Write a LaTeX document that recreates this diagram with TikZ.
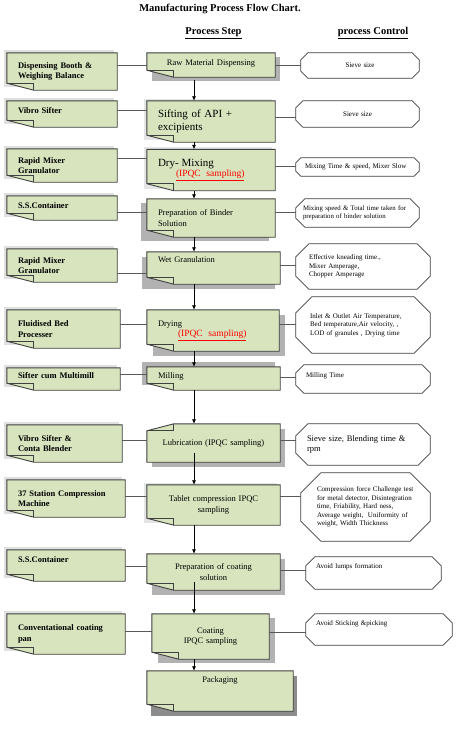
\documentclass[tikz,border=0pt]{standalone}
\usepackage{fontspec}
\setmainfont{Liberation Serif}
\usetikzlibrary{positioning,calc,arrows.meta}

\definecolor{boxgreen}{HTML}{D7E4BD}
\definecolor{boxedge}{HTML}{404040}
\definecolor{shadowgray}{HTML}{B2B2B2}
\pgfdeclarelayer{bg}
\pgfsetlayers{bg,main}

% folded corner (bottom left) behind node #2, shadow moved by #3
\newcommand{\foldbox}[3][shadowgray]{%
  \fill[#1] ([shift={(#3)}]#2.north west) rectangle ([shift={(#3)}]#2.south east);
  \filldraw[edgeline, fill=boxgreen] (#2.north west) -- (#2.north east) -- (#2.south east)
    -- ([xshift=27pt]#2.south west) -- ([yshift=7pt]#2.south west) -- cycle;
  \draw[edgeline] ([yshift=7pt]#2.south west) -- ([shift={(27pt,7pt)}]#2.south west) -- ([xshift=27pt]#2.south west);
}
% same, corner folded at the top left
\newcommand{\foldboxtop}[2]{%
  \fill[shadowgray] ([shift={(#2)}]#1.north west) rectangle ([shift={(#2)}]#1.south east);
  \filldraw[edgeline, fill=boxgreen] ([xshift=27pt]#1.north west) -- (#1.north east) -- (#1.south east)
    -- (#1.south west) -- ([yshift=-7pt]#1.north west) -- cycle;
  \draw[edgeline] ([yshift=-7pt]#1.north west) -- ([shift={(27pt,-7pt)}]#1.north west) -- ([xshift=27pt]#1.north west);
}
% octagon behind node #1, corners cut by #2
\newcommand{\octbox}[2]{%
  \filldraw[edgeline, line width=0.7pt, fill=white] ([xshift=#2]#1.north west) -- ([xshift=-#2]#1.north east)
    -- ([yshift=-#2]#1.north east) -- ([yshift=#2]#1.south east) -- ([xshift=-#2]#1.south east)
    -- ([xshift=#2]#1.south west) -- ([yshift=#2]#1.south west) -- ([yshift=-#2]#1.north west) -- cycle;
}

\begin{document}
\begin{tikzpicture}[x=1pt, y=-1pt,
    edgeline/.style={draw=boxedge, line width=0.9pt},
    tool/.style={inner xsep=11pt, inner ysep=2pt, align=left,
      font=\fontsize{8.5}{10.5}\selectfont\bfseries},
    stepbox/.style={inner xsep=11pt, inner ysep=2pt, align=left,
      font=\fontsize{8.5}{10.5}\selectfont},
    ctrlbox/.style={inner xsep=10pt, inner ysep=2pt, align=left,
      font=\fontsize{7}{8.5}\selectfont},
    head/.style={font=\fontsize{10.5}{12}\selectfont\bfseries},
    link/.style={draw=black!65, line width=0.7pt},
    flow/.style={-{Latex[length=4.5pt,width=4pt]}, line width=0.7pt, black},
    ipqc/.style={text=red}
  ]
  \useasboundingbox (0,0) rectangle (474,744);

  % headings
  \node[head] (title) at (220,9) {Manufacturing Process Flow Chart.};
  \node[head] (hstep) at (213.5,33) {\underline{Process Step}};
  \node[head] (hctrl) at (373,33) {\underline{process Control}};

  % equipment
  \node[tool, text width=88pt, minimum height=37pt] (booth) at (62,71.5) {Dispensing Booth \&\\ Weighing Balance};
  \node[tool, text width=88pt, minimum height=26pt, text depth=6pt] (sifter) at (62,114) {Vibro Sifter};
  \node[tool, text width=88pt, minimum height=33pt] (rmg1) at (62,165.5) {Rapid Mixer\\ Granulator};
  \node[tool, text width=88pt, minimum height=24pt, text depth=4pt] (ssc1) at (62,208) {S.S.Container};
  \node[tool, text width=88pt, minimum height=33pt] (rmg2) at (62,265.5) {Rapid Mixer\\ Granulator};
  \node[tool, text width=91pt, minimum height=38pt] (fbp) at (63.5,329) {Fluidised Bed\\ Processer};
  \node[tool, text width=91pt, minimum height=22pt, text depth=6pt] (multimill) at (63.5,379) {Sifter cum Multimill};
  \node[tool, text width=93pt, minimum height=37pt] (blender) at (64.5,443.5) {Vibro Sifter \&\\ Conta Blender};
  \node[tool, text width=96pt, minimum height=37pt] (press) at (66,498.5) {37 Station Compression\\ Machine};
  \node[tool, text width=96pt, minimum height=31pt, text depth=12pt] (ssc2) at (66,565.5) {S.S.Container};
  \node[tool, text width=96pt, minimum height=40pt] (pan) at (66,634) {Conventational coating\\ pan};

  % process steps
  \node[stepbox, align=center, text width=106pt, minimum height=24pt, text depth=4pt] (raw) at (211,65) {Raw Material Dispensing};
  \node[stepbox, text width=106pt, minimum height=41pt, font=\fontsize{11}{13}\selectfont] (sift) at (211,121.5) {Sifting of API +\\ excipients};
  \node[stepbox, text width=106pt, minimum height=41pt] (drymix) at (211,170)
    {{\fontsize{11}{13}\selectfont Dry- Mixing}\\ \hspace*{18pt}{\fontsize{9.5}{11}\selectfont\color{red}\underline{(IPQC\ \ sampling)}}};
  \node[stepbox, text width=106pt, minimum height=38pt] (binder) at (211,218) {Preparation of Binder\\ Solution};
  \node[stepbox, text width=111pt, minimum height=32pt, text depth=16pt] (wetgran) at (213.5,268) {Wet Granulation};
  \node[stepbox, text width=110pt, minimum height=41pt] (drying) at (213,330.5)
    {Drying\\ \hspace*{20pt}{\fontsize{9.5}{11}\selectfont\color{red}\underline{(IPQC\ \ sampling)}}};
  \node[stepbox, text width=111pt, minimum height=23pt, text depth=6pt] (milling) at (213.5,378.5) {Milling};
  \node[stepbox, align=center, text width=111pt, minimum height=38pt] (lubric) at (213.5,443) {Lubrication (IPQC sampling)};
  \node[stepbox, align=center, text width=111pt, minimum height=40pt] (tablet) at (213.5,505) {Tablet compression IPQC\\ sampling};
  \node[stepbox, align=center, text width=111pt, minimum height=36pt] (coatsol) at (213.5,572) {Preparation of coating\\ solution};
  \node[stepbox, align=center, text width=95pt, minimum height=45pt] (coating) at (210.5,636.5) {Coating\\ IPQC sampling};
  \node[stepbox, align=center, text width=124pt, minimum height=40pt, text depth=22pt] (packing) at (220,691) {Packaging};

  % process control
  \node[ctrlbox, align=center, text width=98pt, minimum height=25pt] (ctrl1) at (360,65.5) {Sieve size};
  \node[ctrlbox, align=center, text width=103pt, minimum height=26pt] (ctrl2) at (357.5,114) {Sieve size};
  \node[ctrlbox, inner xsep=9pt, text width=105pt, minimum height=18pt] (ctrl3) at (357.5,167) {Mixing Time \& speed, Mixer Slow};
  \node[ctrlbox, inner xsep=7pt, text width=109pt, minimum height=28pt, font=\fontsize{6.8}{8.5}\selectfont] (ctrl4) at (357.5,213) {Mixing speed \& Total time taken for\\ preparation of binder solution};
  \node[ctrlbox, inner xsep=13pt, text width=108pt, minimum height=45pt] (ctrl5) at (363,266.5) {Effective kneading time.,\\ Mixer Amperage,\\ Chopper Amperage};
  \node[ctrlbox, inner xsep=14pt, text width=106pt, minimum height=56pt] (ctrl6) at (363,325) {Inlet \& Outlet Air Temperature,\\ Bed temperature,Air velocity, ,\\ LOD of granules , Drying time};
  \node[ctrlbox, text width=114pt, minimum height=28pt, text depth=8pt] (ctrl7) at (363,379) {Milling Time};
  \node[ctrlbox, inner xsep=11pt, text width=112pt, minimum height=41pt, font=\fontsize{8.5}{10}\selectfont] (ctrl8) at (363,444.5) {Sieve size, Blending time \&\\ rpm};
  \node[ctrlbox, inner xsep=16pt, text width=97pt, minimum height=68pt] (ctrl9) at (365.5,507)
    {Compression force Challenge test\\ for metal detector, Disintegration\\ time, Friability, Hard ness,\\ Average weight,\ \ Uniformity of\\ weight, Width Thickness};
  \node[ctrlbox, text width=115pt, minimum height=32pt, text depth=14pt] (ctrl10) at (373.5,573) {Avoid lumps formation};
  \node[ctrlbox, text width=126pt, minimum height=31pt, text depth=12pt] (ctrl11) at (379,629.5) {Avoid Sticking \&picking};

  % shapes behind the texts
  \begin{pgfonlayer}{bg}
    \fill[white] (0,0) rectangle (474,744);
    \foreach \n in {booth,sifter,rmg1,ssc1,rmg2,fbp,multimill,blender,press,ssc2,pan}
      {\foldbox[black!12]{\n}{-3,-3}}
    \foldbox{raw}{5,4}
    \foldbox[black!10]{sift}{-3,-2}
    \foldbox[black!10]{drymix}{-3,-2}
    \foldbox{binder}{-6,4}
    \foldbox{wetgran}{-5,5}
    \foldbox{drying}{6,5}
    \foldbox{milling}{-5,-5}
    \foldboxtop{lubric}{5,5}
    \foldbox[black!10]{tablet}{-3,-2}
    \foldbox{coatsol}{5,5}
    \foldbox{coating}{6,4}
    \foldbox[black!45]{packing}{4,5}
    \octbox{ctrl1}{7pt}
    \octbox{ctrl2}{7pt}
    \octbox{ctrl3}{5pt}
    \octbox{ctrl4}{9pt}
    \octbox{ctrl5}{13pt}
    \octbox{ctrl6}{16pt}
    \octbox{ctrl7}{8pt}
    \octbox{ctrl8}{12pt}
    \octbox{ctrl9}{20pt}
    \octbox{ctrl10}{9pt}
    \octbox{ctrl11}{9pt}
  \end{pgfonlayer}

  % links to equipment and controls
  \draw[link] (raw.west) -- (raw.west -| booth.east);
  \draw[link] (raw.east) -- (raw.east -| ctrl1.west);
  \draw[link] ([yshift=11pt]sift.west) -- ([yshift=11pt]sift.west -| sifter.east);
  \draw[link] ([yshift=4.5pt]sift.east) -- ([yshift=4.5pt]sift.east -| ctrl2.west);
  \draw[link] ([yshift=12pt]drymix.west) -- ([yshift=12pt]drymix.west -| rmg1.east);
  \draw[link] ([yshift=4pt]drymix.east) -- ([yshift=4pt]drymix.east -| ctrl3.west);
  \draw[link] ([yshift=6pt]binder.west) -- ([yshift=6pt]binder.west -| ssc1.east);
  \draw[link] ([yshift=6pt]binder.east) -- ([yshift=6pt]binder.east -| ctrl4.west);
  \draw[link] ([yshift=-5pt]wetgran.west) -- ([yshift=-5pt]wetgran.west -| rmg2.east);
  \draw[link] ([yshift=3pt]wetgran.east) -- ([yshift=3pt]wetgran.east -| ctrl5.west);
  \draw[link] ([yshift=6.5pt]drying.west) -- ([yshift=6.5pt]drying.west -| fbp.east);
  \draw[link] ([yshift=6.5pt]drying.east) -- ([yshift=6.5pt]drying.east -| ctrl6.west);
  \draw[link] ([yshift=4.5pt]milling.west) -- ([yshift=4.5pt]milling.west -| multimill.east);
  \draw[link] ([yshift=1.5pt]milling.east) -- ([yshift=1.5pt]milling.east -| ctrl7.west);
  \draw[link] ([yshift=3pt]lubric.west) -- ([yshift=3pt]lubric.west -| blender.east);
  \draw[link] ([yshift=3pt]lubric.east) -- ([yshift=3pt]lubric.east -| ctrl8.west);
  \draw[link] ([yshift=9pt]tablet.west) -- ([yshift=9pt]tablet.west -| press.east);
  \draw[link] ([yshift=9pt]tablet.east) -- ([yshift=9pt]tablet.east -| ctrl9.west);
  \draw[link] ([yshift=6pt]coatsol.west) -- ([yshift=6pt]coatsol.west -| ssc2.east);
  \draw[link] ([yshift=2pt]coatsol.east) -- ([yshift=2pt]coatsol.east -| ctrl10.west);
  \draw[link] ([yshift=5.5pt]coating.west) -- ([yshift=5.5pt]coating.west -| pan.east);
  \draw[link] ([yshift=4.5pt]coating.east) -- ([yshift=4.5pt]coating.east -| ctrl11.west);

  % flow of the process
  \coordinate (spine) at (194,0);
  \draw[flow] ([yshift=-3pt]raw.south -| spine) -- (sift.north -| spine);
  \draw[flow] (sift.south -| spine) -- (drymix.north -| spine);
  \draw[flow] (drymix.south -| spine) -- (binder.north -| spine);
  \draw[flow] (binder.south -| spine) -- (wetgran.north -| spine);
  \draw[flow] (wetgran.south -| spine) -- (drying.north -| spine);
  \draw[flow] (drying.south -| spine) -- (milling.north -| spine);
  \draw[flow] (milling.south -| spine) -- (lubric.north -| spine);
  \draw[flow] ([yshift=9pt]lubric.south -| spine) -- (tablet.north -| spine);
  \draw[flow] (tablet.south -| spine) -- (coatsol.north -| spine);
  \draw[flow] ([yshift=8pt]coatsol.south -| spine) -- (coating.north -| spine);
  \draw[flow] (coating.south -| spine) -- (packing.north -| spine);
\end{tikzpicture}
\end{document}
